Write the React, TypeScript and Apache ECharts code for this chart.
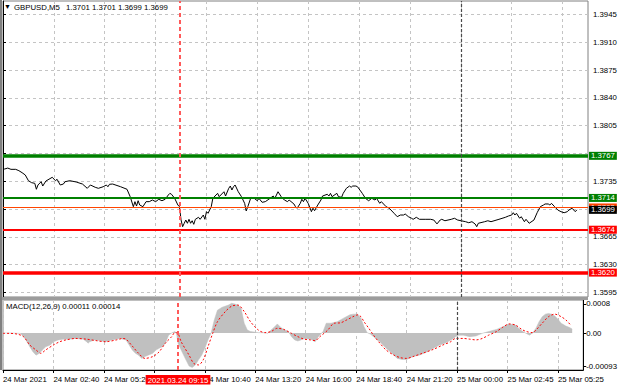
import React, { useEffect, useRef } from "react";
import * as echarts from "echarts";

// ---------- data ----------
const symbolName = "GBPUSD,M5";
const headerOHLC = [1.3701, 1.3701, 1.3699, 1.3699];
const macdHeader = "MACD(12,26,9) 0.00011 0.00014";

const timeTickIdx = [0, 32, 64, 96, 128, 160, 192, 224, 256, 288, 320, 352];
// the 08:00 label sits under the red cursor box in the reference
const timeLabelIdx = [0, 32, 64, 128, 160, 192, 224, 256, 288, 320, 352];
const timeTickLabels = [
  "24 Mar 2021", "24 Mar 02:40", "24 Mar 05:20", "24 Mar 10:40", "24 Mar 13:20",
  "24 Mar 16:00", "24 Mar 18:40", "24 Mar 21:20", "25 Mar 00:00", "25 Mar 02:45", "25 Mar 05:25",
];
// grid levels of the price scale; 1.3770 and 1.3700 sit under the level boxes
const priceGridTicks = [1.3945, 1.391, 1.3875, 1.384, 1.3805, 1.377, 1.3735, 1.37, 1.3665, 1.363, 1.3595];
const priceLabelTicks = [1.3945, 1.391, 1.3875, 1.384, 1.3805, 1.3735, 1.3665, 1.363, 1.3595];
const macdTicks = [0.0008, 0, -0.00093];
const macdTickLabels = ["0.0008", "0.00", "-0.00093"];

const levelPrices = [1.3767, 1.3714, 1.3674, 1.362];
const askPrice = 1.3702;
const bidPrice = 1.3699;
const cursorIdx = 111;
const cursorLabel = "2021.03.24 09:15";
const separatorIdx = 288;

const priceIdx = [
  0, 1, 3, 5, 8, 10, 12, 14, 16, 18, 20, 21, 22, 24, 25, 27, 31, 33, 34, 36, 38, 39, 42, 46, 50, 53, 55, 58, 60, 63,
  65, 66, 67, 69, 74, 78, 80, 82, 83, 84, 85, 86, 88, 90, 92, 94, 96, 98, 100, 102, 104, 105, 106, 108, 110, 111, 112, 113, 114, 115,
  116, 117, 118, 119, 120, 121, 123, 124, 126, 127, 128, 129, 131, 132, 134, 135, 136, 139, 140, 142, 143, 144, 145, 146, 148, 150, 152, 153, 154, 156,
  158, 160, 161, 163, 165, 168, 170, 171, 173, 175, 177, 179, 180, 183, 184, 185, 187, 188, 189, 190, 192, 194, 195, 196, 198, 200, 201, 204, 205, 206,
  207, 210, 211, 213, 214, 216, 218, 219, 220, 222, 223, 226, 228, 230, 232, 234, 235, 237, 238, 241, 243, 246, 248, 250, 252, 253, 255, 257, 258, 260,
  262, 266, 269, 271, 273, 275, 276, 278, 282, 284, 286, 291, 293, 295, 297, 298, 299, 303, 305, 307, 312, 316, 318, 320, 321, 322, 323, 325, 326, 328,
  329, 331, 334, 336, 338, 340, 341, 343, 344, 345, 347, 349, 351, 353, 355, 356, 358, 359, 360, 361,
];
const priceClose = [
  1.37513, 1.37504, 1.37516, 1.375, 1.375, 1.37483, 1.37458, 1.37429, 1.37357, 1.37332, 1.37324, 1.37249, 1.37303, 1.37344, 1.3729, 1.37353, 1.374, 1.37357, 1.37375, 1.37303, 1.37315, 1.37344, 1.37357, 1.37341, 1.37315, 1.37261, 1.37303, 1.37274, 1.37261, 1.37281,
  1.37303, 1.37281, 1.37312, 1.37315, 1.37281, 1.37249, 1.37156, 1.3703, 1.37093, 1.37038, 1.37105, 1.37051, 1.3703, 1.37093, 1.37093, 1.37114, 1.37093, 1.37123, 1.37105, 1.37123, 1.37177, 1.37198, 1.37186, 1.37135, 1.37051, 1.3703, 1.36864, 1.36778, 1.36821, 1.36862,
  1.36821, 1.36871, 1.36821, 1.36853, 1.36808, 1.36871, 1.36896, 1.36871, 1.36925, 1.36871, 1.36967, 1.36947, 1.3703, 1.37135, 1.37177, 1.37198, 1.37156, 1.37218, 1.37164, 1.37261, 1.3729, 1.3724, 1.37281, 1.37303, 1.37218, 1.37156, 1.37072, 1.36976, 1.3703, 1.37148,
  1.37135, 1.37105, 1.37135, 1.37085, 1.37093, 1.37135, 1.37164, 1.37135, 1.37218, 1.37156, 1.37114, 1.37093, 1.37114, 1.37064, 1.3703, 1.3701, 1.37072, 1.37123, 1.37093, 1.37135, 1.37072, 1.36967, 1.3701, 1.36979, 1.37051, 1.37114, 1.37164, 1.37186, 1.37164, 1.37198,
  1.37156, 1.37198, 1.37156, 1.37148, 1.37198, 1.37261, 1.3729, 1.37274, 1.3729, 1.3729, 1.37281, 1.37198, 1.37135, 1.37105, 1.37135, 1.37114, 1.37135, 1.37072, 1.37093, 1.3703, 1.3701, 1.36947, 1.36904, 1.36925, 1.36925, 1.36938, 1.36904, 1.36884, 1.36871, 1.36896,
  1.36871, 1.36871, 1.36871, 1.36862, 1.36813, 1.36862, 1.36871, 1.36853, 1.36871, 1.36884, 1.36862, 1.36841, 1.36828, 1.36841, 1.36812, 1.36778, 1.36821, 1.36841, 1.36853, 1.36841, 1.36871, 1.36896, 1.36913, 1.36925, 1.36954, 1.36925, 1.36947, 1.36884, 1.36904, 1.36841,
  1.36871, 1.36821, 1.36862, 1.36954, 1.3703, 1.37051, 1.37064, 1.37064, 1.37051, 1.37072, 1.3703, 1.36988, 1.36967, 1.36954, 1.36967, 1.36988, 1.3701, 1.36988, 1.36967, 1.3699,
];

const histIdx = [
  0, 4, 11, 14, 17, 19, 21, 23, 25, 27, 30, 32, 35, 38, 42, 46, 51, 53, 54, 55, 58, 61, 65, 69, 74, 78, 80, 82, 84, 86,
  88, 90, 92, 95, 97, 99, 101, 103, 105, 107, 109, 110, 111, 113, 116, 118, 120, 122, 124, 126, 128, 130, 132, 134, 136, 139, 143, 145, 147, 149,
  151, 153, 155, 157, 162, 166, 168, 170, 172, 174, 176, 178, 181, 183, 185, 187, 189, 191, 195, 198, 200, 203, 205, 208, 212, 216, 220, 222, 225, 227,
  229, 231, 233, 235, 239, 243, 248, 250, 253, 256, 260, 264, 269, 273, 277, 281, 285, 287, 289, 292, 296, 300, 304, 308, 313, 317, 321, 325, 327, 329,
  331, 334, 336, 338, 340, 342, 344, 346, 348, 350, 352, 354, 357, 359, 361,
];
const histVal = [
  0, 0, -0.00001, -0.00015, -0.00038, -0.00052, -0.00061, -0.00056, -0.00047, -0.00038, -0.00033, -0.00024, -0.00019, -0.00017, -0.00017, -0.00015, -0.00017, -0.00024, -0.00028, -0.00024, -0.00019, -0.00021, -0.00024, -0.00019, -0.00015, -0.00019, -0.00033, -0.00047, -0.00056, -0.00061,
  -0.0007, -0.00065, -0.00061, -0.00056, -0.00047, -0.00042, -0.00038, -0.00028, -0.00006, 0, 0.00004, 0, -0.00028, -0.00047, -0.00074, -0.00091, -0.00095, -0.00088, -0.00074, -0.00061, -0.00042, -0.00019, 0, 0.00036, 0.00063, 0.00071, 0.00077, 0.00082, 0.0008, 0.00077,
  0.00068, 0.00027, 0.00008, 0.00004, 0.00001, 0.00001, -0.00001, 0.00008, 0.00016, 0.00025, 0.00016, 0.0001, 0.00004, -0.0001, -0.00019, -0.00022, -0.00019, -0.00015, -0.00017, -0.00024, -0.0001, 0.00004, 0.00027, 0.00027, 0.00031, 0.00041, 0.0005, 0.00052, 0.00052, 0.00041,
  0.00017, 0.00001, -0.00003, -0.0001, -0.00024, -0.00042, -0.00061, -0.0007, -0.00073, -0.00073, -0.00065, -0.00061, -0.00052, -0.00042, -0.00033, -0.00027, -0.00017, -0.0001, -0.00006, -0.00006, -0.0001, -0.00008, -0.00001, 0.00004, 0.0001, 0.00017, 0.00025, 0.00022, 0.00013, 0.00006,
  0.00001, -0.00006, 0.00001, 0.00013, 0.00031, 0.00045, 0.00052, 0.00054, 0.00052, 0.00047, 0.00038, 0.00027, 0.00019, 0.00016, 0.00011,
];

const signalIdx = [
  0, 4, 9, 13, 17, 21, 24, 27, 32, 36, 40, 46, 53, 59, 65, 72, 76, 78, 82, 86, 90, 95, 99, 103, 107, 109, 111, 113, 118, 121,
  124, 127, 130, 133, 136, 141, 145, 149, 153, 157, 162, 166, 170, 174, 178, 183, 187, 191, 195, 198, 201, 206, 210, 214, 218, 222, 225, 227, 229, 232,
  235, 239, 243, 248, 252, 256, 260, 266, 273, 279, 284, 287, 292, 296, 300, 304, 308, 313, 317, 321, 325, 329, 332, 336, 338, 342, 346, 350, 354, 357,
  360,
];
const signalVal = [
  -0.00001, -0.00001, -0.00003, -0.0001, -0.00033, -0.00047, -0.00056, -0.00047, -0.00033, -0.00024, -0.00019, -0.00015, -0.00017, -0.00021, -0.00024, -0.00019, -0.00015, -0.00017, -0.00036, -0.00056, -0.0007, -0.00065, -0.00052, -0.00028, -0.0001, 0.00001, -0.00001, -0.00024, -0.00061, -0.00084,
  -0.00088, -0.00074, -0.00038, -0.00001, 0.00031, 0.00059, 0.00074, 0.00077, 0.00059, 0.00031, 0.00008, 0.00001, 0.00004, 0.00013, 0.0001, -0.00001, -0.0001, -0.00017, -0.00019, -0.00021, -0.0001, 0.00008, 0.00027, 0.00028, 0.00036, 0.00045, 0.0005, 0.00045, 0.00031, 0.00013,
  -0.00006, -0.00028, -0.00047, -0.00061, -0.00068, -0.0007, -0.00065, -0.00056, -0.00045, -0.00033, -0.00024, -0.00015, -0.00015, -0.00017, -0.00019, -0.00015, -0.00006, 0.00004, 0.00016, 0.00025, 0.00022, 0.0001, 0.00004, 0.00001, 0.00008, 0.00027, 0.00045, 0.00052, 0.00045, 0.00036,
  0.00022,
];

// ---------- styling ----------
const FONT = '"Liberation Sans", Arial, sans-serif';
const FS = 7.8;
const GREEN = "#008000";
const RED = "#ff0000";
const levelStyles = [
  { color: GREEN, width: 3.5 },
  { color: GREEN, width: 2 },
  { color: RED, width: 2 },
  { color: RED, width: 3.5 },
];

const zip = (a: number[], b: number[]) => a.map((v, i) => [v, b[i]]);

function priceLabel(bg: string) {
  return {
    show: true,
    position: "end",
    distance: 1,
    formatter: (p: any) => Number(p.value).toFixed(4),
    color: "#fff",
    backgroundColor: bg,
    padding: [0, 2, 0, 2],
    lineHeight: 8,
    fontSize: FS,
    fontFamily: FONT,
  };
}

function buildOption(): any {
  const xCommon = {
    type: "value",
    min: 0,
    max: 368,
    splitLine: { show: true, lineStyle: { color: "#c4c4c4", type: [3, 3], width: 1 } },
  };
  const headerFont = `${FS}px ${FONT}`;
  return {
    animation: false,
    backgroundColor: "#ffffff",
    textStyle: { fontFamily: FONT, fontSize: FS, color: "#000" },
    grid: [
      { left: 3, top: 1, width: 585, height: 296, show: true, borderColor: "#808080", borderWidth: 1 },
      { left: 3, top: 300, width: 585, height: 70, show: true, borderColor: "#808080", borderWidth: 1 },
    ],
    xAxis: [
      {
        ...xCommon,
        gridIndex: 0,
        axisLine: { show: false },
        axisTick: { show: false, customValues: timeTickIdx },
        axisLabel: { show: false, customValues: timeTickIdx },
      },
      {
        ...xCommon,
        gridIndex: 1,
        axisLine: { show: true, onZero: false, lineStyle: { color: "#000", width: 1 } },
        axisTick: { show: true, length: 3, customValues: timeTickIdx, lineStyle: { color: "#000" } },
        axisLabel: {
          show: true,
          customValues: timeLabelIdx,
          align: "left",
          margin: 5,
          fontSize: FS,
          fontFamily: FONT,
          color: "#000",
          formatter: (v: number) => {
            const i = timeLabelIdx.findIndex((t) => Math.abs(t - v) < 0.01);
            return i >= 0 ? timeTickLabels[i] : "";
          },
        },
      },
    ],
    yAxis: [
      {
        type: "value",
        gridIndex: 0,
        position: "right",
        min: 1.35893,
        max: 1.39619,
        axisLine: { show: true, lineStyle: { color: "#000", width: 1 } },
        axisTick: { show: true, length: 3, customValues: priceGridTicks, lineStyle: { color: "#000" } },
        axisLabel: {
          show: true,
          customValues: priceLabelTicks,
          margin: 5,
          padding: [3, 0, 0, 0],
          fontSize: FS,
          fontFamily: FONT,
          color: "#000",
          formatter: (v: number) => v.toFixed(4),
        },
        splitLine: { show: true, lineStyle: { color: "#c4c4c4", type: [3, 3], width: 1 } },
      },
      {
        type: "value",
        gridIndex: 1,
        position: "right",
        min: -0.00102,
        max: 0.00091,
        axisLine: { show: true, onZero: false, lineStyle: { color: "#000", width: 1 } },
        axisTick: { show: true, length: 3, customValues: macdTicks, lineStyle: { color: "#000" } },
        axisLabel: {
          show: true,
          customValues: macdTicks,
          margin: 3,
          fontSize: FS,
          fontFamily: FONT,
          color: "#000",
          formatter: (v: number) => {
            const i = macdTicks.findIndex((t) => Math.abs(t - v) < 1e-7);
            return i >= 0 ? macdTickLabels[i] : "";
          },
        },
        splitLine: { show: false },
      },
    ],
    series: [
      {
        type: "line",
        name: "price",
        xAxisIndex: 0,
        yAxisIndex: 0,
        data: zip(priceIdx, priceClose),
        showSymbol: false,
        lineStyle: { color: "#000", width: 1 },
        z: 3,
        markLine: {
          silent: true,
          symbol: "none",
          precision: 5,
          animation: false,
          data: [
            { yAxis: askPrice, lineStyle: { color: "#ff4500", width: 1, type: "solid" }, label: priceLabel("#ff4500") },
            ...levelPrices.map((v, i) => ({
              yAxis: v,
              lineStyle: { color: levelStyles[i].color, width: levelStyles[i].width, type: "solid" },
              label: priceLabel(levelStyles[i].color),
            })),
            { yAxis: bidPrice, lineStyle: { color: "rgba(0,0,0,0)", width: 1, type: "solid" }, label: priceLabel("#000000") },
            { xAxis: cursorIdx, lineStyle: { color: "#ff5a5a", width: 2, type: [4, 3] }, label: { show: false } },
            { xAxis: separatorIdx, lineStyle: { color: "#4a4a4a", width: 1.2, type: [3, 2] }, label: { show: false } },
          ],
        },
      },
      {
        type: "line",
        name: "macd",
        xAxisIndex: 1,
        yAxisIndex: 1,
        data: zip(histIdx, histVal),
        showSymbol: false,
        lineStyle: { color: "#c0c0c0", width: 0.5 },
        areaStyle: { color: "#c0c0c0", opacity: 1 },
        z: 2,
        markLine: {
          silent: true,
          symbol: "none",
          precision: 5,
          animation: false,
          data: [
            {
              xAxis: cursorIdx,
              lineStyle: { color: "#ff5a5a", width: 2, type: [4, 3] },
              label: {
                show: true,
                position: "start",
                distance: 5,
                formatter: cursorLabel,
                color: "#fff",
                backgroundColor: RED,
                padding: [1, 2, 0, 2],
                lineHeight: 8.5,
                fontSize: FS,
                fontFamily: FONT,
              },
            },
            { xAxis: separatorIdx, lineStyle: { color: "#4a4a4a", width: 1.2, type: [3, 2] }, label: { show: false } },
          ],
        },
      },
      {
        type: "line",
        name: "signal",
        xAxisIndex: 1,
        yAxisIndex: 1,
        data: zip(signalIdx, signalVal),
        showSymbol: false,
        smooth: 0.3,
        lineStyle: { color: RED, width: 1, type: [2, 2] },
        z: 3,
      },
    ],
    graphic: [
      { type: "rect", shape: { x: 0, y: 297, width: 588, height: 3 }, style: { fill: "#9c9c9c" }, z: 10 },
      { type: "line", shape: { x1: 1, y1: 0, x2: 1, y2: 370 }, style: { stroke: "#808080", lineWidth: 2 }, z: 10 },
      { type: "text", x: 4, y: 3, style: { text: "▼", fill: "#000", font: `7px ${FONT}` }, z: 10 },
      { type: "text", x: 14, y: 3, style: { text: symbolName, fill: "#000", font: headerFont }, z: 10 },
      ...headerOHLC.map((v, i) => ({
        type: "text",
        x: 66 + i * 26,
        y: 3,
        style: { text: v.toFixed(4), fill: "#000", font: headerFont },
        z: 10,
      })),
      {
        type: "text",
        x: 6,
        y: 302,
        style: { text: macdHeader, fill: "#000", font: headerFont },
        z: 10,
      },
    ],
  };
}

export default function App() {
  const ref = useRef<HTMLDivElement>(null);
  useEffect(() => {
    if (!ref.current) return;
    const chart = echarts.init(ref.current, null, { renderer: "svg" });
    chart.setOption(buildOption());
    return () => chart.dispose();
  }, []);
  return (
    <div
      ref={ref}
      style={{ position: "fixed", left: 0, top: 0, width: 620, height: 388, background: "#fff" }}
    />
  );
}
